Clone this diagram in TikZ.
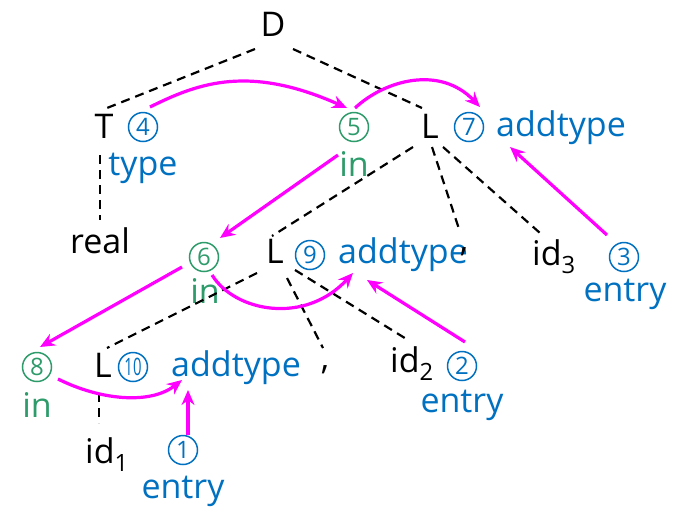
\documentclass[tikz,border=0pt]{standalone}
\usepackage{fontspec}
\usepackage{graphicx}
\setmainfont{Open Sans}
\usetikzlibrary{arrows.meta}
\definecolor{ablue}{HTML}{0070C0}
\definecolor{agreen}{HTML}{2E9B6B}
\definecolor{amag}{HTML}{FF00FF}
\begin{document}
\begin{tikzpicture}[x=1pt,y=-1pt,
  lbl/.style={inner sep=0pt, anchor=base, font=\fontsize{34}{38}\selectfont},
  sym/.style={lbl, text=black},
  bl/.style={lbl, text=ablue},
  gr/.style={lbl, text=agreen},
  circ/.style={circle, draw, line width=1.5pt, inner sep=0pt, minimum size=29pt, font=\fontsize{24}{28}\selectfont},
  cb/.style={circ, text=ablue, draw=ablue},
  cg/.style={circ, text=agreen, draw=agreen},
  tree/.style={dash pattern=on 9pt off 6pt, line width=2.2pt, black},
  flow/.style={amag, line width=3.2pt, -{Stealth[length=15pt,width=13pt,inset=5pt]}},
]
\useasboundingbox (0,0) rectangle (684,515);
% nodes
\node[sym] (D) at (273,36) {D};
\node[sym] (T) at (104,138) {T};
\node[cb] (c4) at (143,127) {4};
\node[bl] (type) at (143,175) {type};
\node[cg] (c5) at (354,127) {5};
\node[gr] (in5) at (354,176) {in};
\node[sym] (L1) at (430,138) {L};
\node[cb] (c7) at (469,127) {7};
\node[bl] (add7) at (561,136) {addtype};
\node[sym] (real) at (100,253) {real};
\node[cg] (c6) at (204,257) {6};
\node[gr] (in6) at (205,303) {in};
\node[sym] (L2) at (275,263) {L};
\node[cb] (c9) at (310,255) {9};
\node[bl] (add9) at (403,263) {addtype};
\node[sym] (comma1) at (464,251) {,};
\node[sym, anchor=base west] (id3) at (532,265) {id\textsubscript{3}};
\node[cb] (c3) at (624,257) {3};
\node[bl] (e3) at (625,301) {entry};
\node[cg] (c8) at (37,367) {8};
\node[gr] (in8) at (37,417) {in};
\node[sym] (L3) at (103,377) {L};
\node[cb] (c10) at (133,367) {\scalebox{0.62}[1]{10}};
\node[bl] (add10) at (236,376) {addtype};
\node[sym] (comma2) at (325,369) {,};
\node[sym, anchor=base west] (id2) at (390,372) {id\textsubscript{2}};
\node[cb] (c2) at (462,366) {2};
\node[bl] (e2) at (462,412) {entry};
\node[sym, anchor=base west] (id1) at (85,463) {id\textsubscript{1}};
\node[cb] (c1) at (183,450) {1};
\node[bl] (e1) at (183,498) {entry};
% tree edges
\draw[tree] ([shift={(-18,13)}]D.base) -- ([shift={(3,-30)}]T.base);
\draw[tree] ([shift={(20,13)}]D.base) -- ([shift={(-8,-30)}]L1.base);
\draw[tree] ([shift={(-4,17)}]T.base) -- ([shift={(0,-33)}]real.base);
\draw[tree] ([shift={(-17,9)}]L1.base) -- ([shift={(-3,-27)}]L2.base);
\draw[tree] ([shift={(2,9)}]L1.base) -- ([shift={(-4,-19)}]comma1.base);
\draw[tree] ([shift={(13,9)}]L1.base) -- ([shift={(8,-32)}]id3.base west);
\draw[tree] ([shift={(-18,10)}]L2.base) -- ([shift={(4,-29)}]L3.base);
\draw[tree] ([shift={(12,15)}]L2.base) -- ([shift={(-2,-21)}]comma2.base);
\draw[tree] ([shift={(20,7)}]L2.base) -- ([shift={(18,-32)}]id2.base west);
\draw[tree] ([shift={(-4,16)}]L3.base) -- ([shift={(14,-40)}]id1.base west);
% flow arrows
\draw[flow] ([shift={(7,-20)}]c4.center) .. controls (200,82) and (250,65) .. ([shift={(-7,-19)}]c5.center);
\draw[flow] ([shift={(1,-19)}]c5.center) .. controls (385,80) and (440,65) .. ([shift={(11,-20)}]c7.center);
\draw[flow] ([shift={(-16,-21)}]in5.base) -- ([shift={(16,-19)}]c6.center);
\draw[flow] ([shift={(-17,-22)}]c3.center) -- ([shift={(-51,11)}]add7.base);
\draw[flow] ([shift={(8,18)}]c6.center) .. controls (235,312) and (305,325) .. ([shift={(-50,10)}]add9.base);
\draw[flow] ([shift={(3,-24)}]c2.center) -- ([shift={(-36,17)}]add9.base);
\draw[flow] ([shift={(-22,10)}]c6.center) -- ([shift={(3,-20)}]c8.center);
\draw[flow] ([shift={(21,12)}]c8.center) .. controls (100,400) and (150,405) .. ([shift={(-54,4)}]add10.base);
\draw[flow] ([shift={(5,-15)}]c1.center) -- ([shift={(-48,14)}]add10.base);
\end{tikzpicture}
\end{document}
